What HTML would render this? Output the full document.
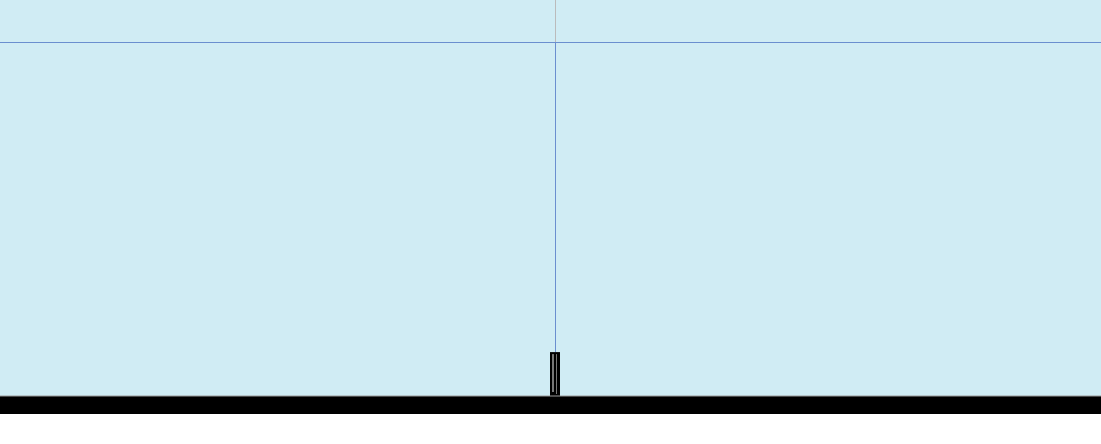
<!DOCTYPE html>
<html><head><meta charset="utf-8"><style>
html,body{margin:0;padding:0;background:#fff;width:1101px;height:444px;overflow:hidden;font-family:"Liberation Sans",sans-serif}
</style></head><body>
<svg id="chart" width="1101" height="444" xmlns="http://www.w3.org/2000/svg">
<rect x="0" y="0" width="1101" height="396" fill="#d0ecf4"/>
<g id="marks"></g>
<rect x="0" y="396" width="1101" height="18" fill="#000"/>
<line x1="0" y1="396" x2="1101" y2="396" stroke="#9a9a9a" stroke-width="1"/>
</svg>
<script>
const categories = ["A"];
const values = [0.124];
const refValues = [1.0];
const svg = document.getElementById('marks');
const NS = 'http://www.w3.org/2000/svg';
const y0 = 396, yTop = 42;
function yScale(v){ return y0 - v * (y0 - yTop) / 1.0; }
function xScale(i){ return 555 + (i - (categories.length-1)/2) * 100; }
refValues.forEach(function(r){
  const l = document.createElementNS(NS,'line');
  
  
  l.setAttribute('x1',0); l.setAttribute('x2',1101);
  l.setAttribute('y1',yScale(r)+0.5); l.setAttribute('y2',yScale(r)+0.5);
  l.setAttribute('stroke','#6a8fcf'); l.setAttribute('stroke-width',1);
  svg.appendChild(l);
});
categories.forEach(function(c,i){
  const x = xScale(i);
  const g1 = document.createElementNS(NS,'line');
  
  
  g1.setAttribute('x1',x+0.5); g1.setAttribute('x2',x+0.5);
  g1.setAttribute('y1',0); g1.setAttribute('y2',yScale(refValues[0]));
  g1.setAttribute('stroke','#bbbbbb');
  svg.appendChild(g1);
  const g2 = document.createElementNS(NS,'line');
  
  
  g2.setAttribute('x1',x+0.5); g2.setAttribute('x2',x+0.5);
  g2.setAttribute('y1',yScale(refValues[0])); g2.setAttribute('y2',yScale(values[i]));
  g2.setAttribute('stroke','#6a8fcf');
  svg.appendChild(g2);
  const b = document.createElementNS(NS,'rect');
  
  
  b.setAttribute('x',x-5); b.setAttribute('y',yScale(values[i]));
  b.setAttribute('width',10); b.setAttribute('height',y0-yScale(values[i]));
  b.setAttribute('fill','#000');
  svg.appendChild(b);
  const inner = document.createElementNS(NS,'rect');
  
  
  inner.setAttribute('x',x-3); inner.setAttribute('y',yScale(values[i])+2);
  inner.setAttribute('width',2); inner.setAttribute('height',y0-yScale(values[i])-6);
  inner.setAttribute('fill','#777');
  svg.appendChild(inner);
  const inner2 = document.createElementNS(NS,'rect');
  
  
  inner2.setAttribute('x',x+1); inner2.setAttribute('y',yScale(values[i])+2);
  inner2.setAttribute('width',1); inner2.setAttribute('height',y0-yScale(values[i])-4);
  inner2.setAttribute('fill','#777');
  svg.appendChild(inner2);
});
</script>
</body></html>
